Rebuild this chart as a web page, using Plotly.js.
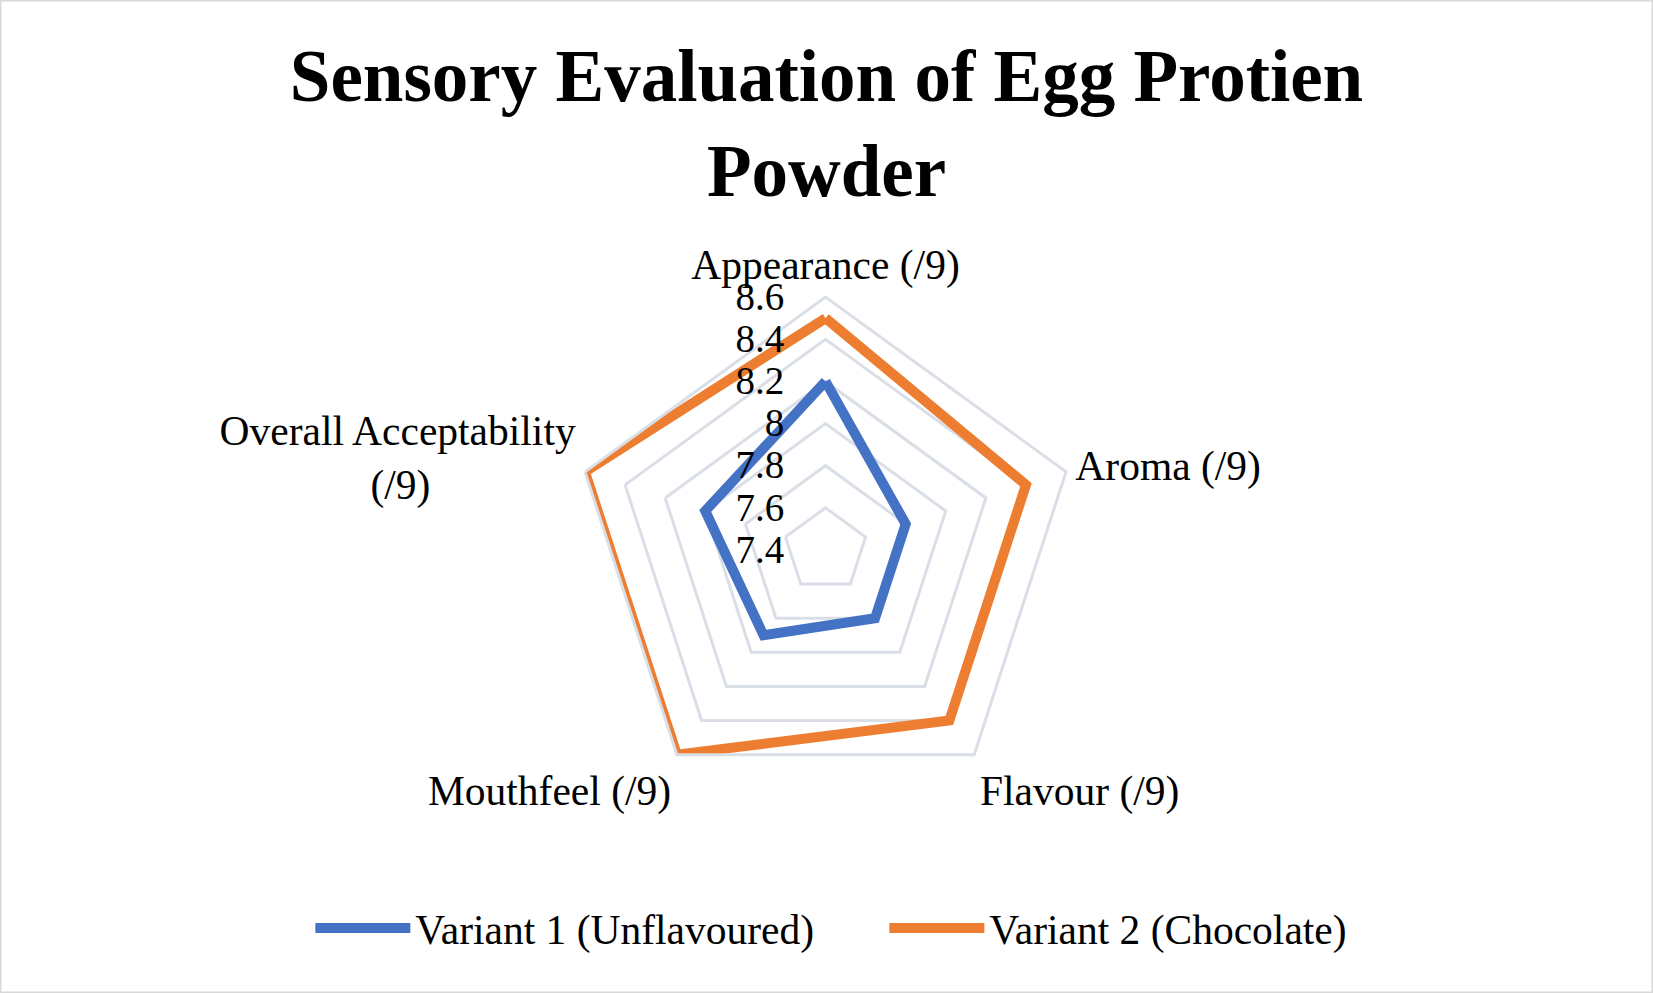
<!DOCTYPE html>
<html>
<head>
<meta charset="utf-8">
<script src="https://cdn.plot.ly/plotly-3.0.1.min.js"></script>
<style>
  html, body { margin: 0; padding: 0; background: #fff; }
  #chart { width: 1653px; height: 993px; }
</style>
</head>
<body>
<div id="chart"></div>
<script>
// sensory attributes (scored out of 9)
var categories = ['Appearance (/9)', 'Aroma (/9)', 'Flavour (/9)', 'Mouthfeel (/9)', 'Overall Acceptability (/9)']
// non-breaking spaces keep the second line roughly centred under the first
var category_labels = ['Appearance (/9)', 'Aroma (/9)', 'Flavour (/9)', 'Mouthfeel (/9)',
    'Overall Acceptability<br>(/9)' + '\u00A0'.repeat(14)]

var variant1 = [8.2, 7.8, 7.8, 7.9, 8.0]
var variant2 = [8.5, 8.4, 8.4, 8.6, 8.6]

var radial_ticks = [7.4, 7.6, 7.8, 8.0, 8.2, 8.4, 8.6]

var serif = 'Liberation Serif, Times New Roman, serif'

// close the polygons
function closed(a) { return a.concat([a[0]]) }

var trace1 = {
    type: 'scatterpolar',
    mode: 'lines',
    name: 'Variant 1 (Unflavoured)',
    r: closed(variant1),
    theta: closed(categories),
    cliponaxis: false,
    line: { color: '#4472C4', width: 10 }
}

var trace2 = {
    type: 'scatterpolar',
    mode: 'lines',
    name: 'Variant 2 (Chocolate)',
    r: closed(variant2),
    theta: closed(categories),
    cliponaxis: false,
    line: { color: '#ED7D31', width: 10 }
}

var grid = '#D9DEE7'

var layout = {
    width: 1653,
    height: 993,
    margin: { l: 0, r: 0, t: 0, b: 0 },
    paper_bgcolor: '#fff',
    font: { family: serif, color: '#000', size: 40 },
    title: {
        text: '<b>Sensory Evaluation of Egg Protien<br>Powder</b>',
        font: { family: serif, size: 73, color: '#000' },
        x: 0.5,
        xanchor: 'center',
        y: 0.898,
        yanchor: 'middle'
    },
    polar: {
        domain: { x: [0.3464, 0.6524], y: [0.1913, 0.7009] },
        bgcolor: 'rgba(0,0,0,0)',
        gridshape: 'linear',
        radialaxis: {
            range: [7.4, 8.6],
            tickvals: radial_ticks,
            ticktext: radial_ticks.map(String),
            angle: 90,
            tickangle: 90,
            side: 'counterclockwise',
            showline: false,
            showgrid: true,
            gridcolor: grid,
            gridwidth: 3,
            ticks: 'outside',
            ticklen: 27,
            tickcolor: 'rgba(0,0,0,0)',
            tickfont: { family: serif, size: 39, color: '#000' }
        },
        angularaxis: {
            type: 'category',
            categoryarray: categories,
            direction: 'clockwise',
            rotation: 90,
            tickmode: 'array',
            tickvals: categories,
            ticktext: category_labels,
            showgrid: false,
            showline: true,
            linecolor: grid,
            linewidth: 3,
            ticks: '',
            tickfont: { family: serif, size: 41.5, color: '#000' }
        }
    },
    showlegend: true,
    legend: {
        orientation: 'h',
        x: 0.535,
        xanchor: 'center',
        y: 1 - 928 / 993,
        yanchor: 'middle',
        font: { family: serif, size: 41.5, color: '#000' },
        itemwidth: 95,
        entrywidth: 464,
        tracegroupgap: 0
    },
    shapes: [{
        type: 'rect', xref: 'paper', yref: 'paper',
        x0: 0, x1: 1, y0: 0, y1: 1,
        line: { color: '#D9D9D9', width: 3 }
    }]
}

Plotly.newPlot('chart', [trace1, trace2], layout, { displayModeBar: false, staticPlot: true })
</script>
</body>
</html>
